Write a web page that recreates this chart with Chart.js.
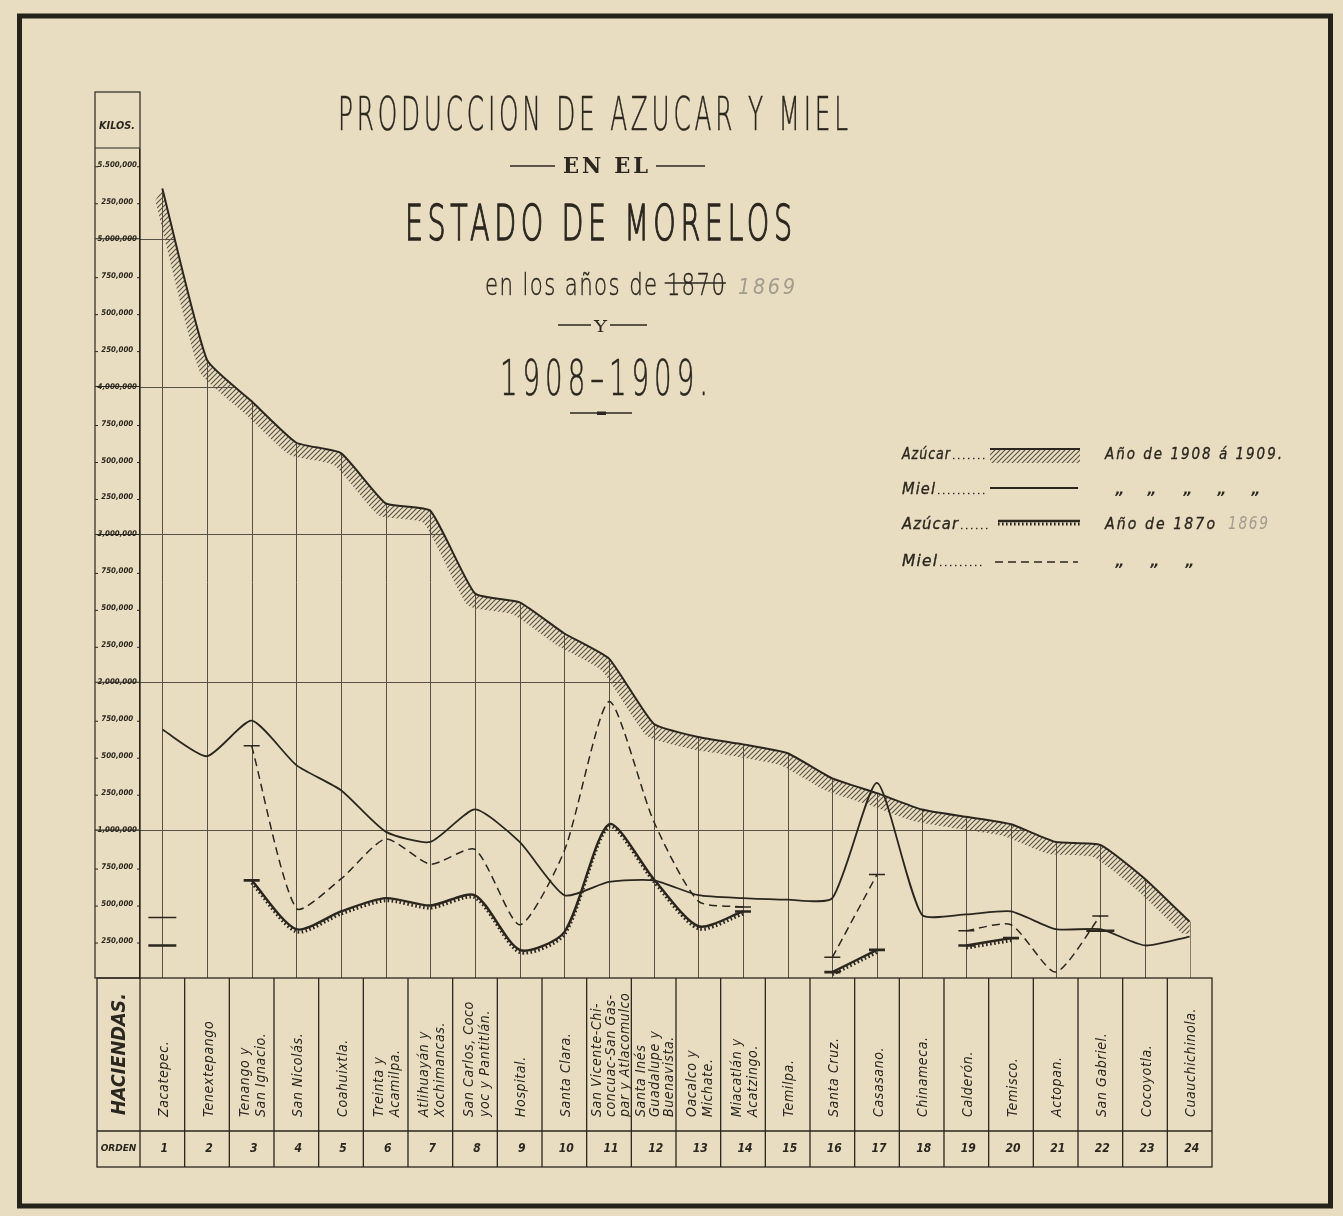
<!DOCTYPE html>
<html lang="es">
<head>
<meta charset="utf-8">
<title>Producción de azúcar y miel en el Estado de Morelos</title>
<script src="https://cdn.jsdelivr.net/npm/chart.js@4.4.1/dist/chart.umd.min.js"></script>
<style>
  html, body { margin: 0; padding: 0; background: #e8ddc1; }
  #wrap { position: relative; width: 1343px; height: 1216px; }
</style>
</head>
<body>
<div id="wrap"><canvas id="chart"></canvas></div>
<script>
// Haciendas por orden, en renglones como en la lámina
const haciendas = [
    ['Zacatepec.'], ['Tenextepango'], ['Tenango y', 'San Ignacio.'], ['San Nicolás.'],
    ['Coahuixtla.'], ['Treinta y', 'Acamilpa.'], ['Atlihuayán y', 'Xochimancas.'],
    ['San Carlos, Coco', 'yoc y Pantitlán.'], ['Hospital.'], ['Santa Clara.'],
    ['San Vicente-Chi-', 'concuac-San Gas-', 'par y Atlacomulco'],
    ['Santa Inés', 'Guadalupe y', 'Buenavista.'], ['Oacalco y', 'Michate.'],
    ['Miacatlán y', 'Acatzingo.'], ['Temilpa.'], ['Santa Cruz.'], ['Casasano.'],
    ['Chinameca.'], ['Calderón.'], ['Temisco.'], ['Actopan.'], ['San Gabriel.'],
    ['Cocoyotla.'], ['Cuauchichinola.']
];
const orden = ['1', '2', '3', '4', '5', '6', '7', '8', '9', '10', '11', '12',
               '13', '14', '15', '16', '17', '18', '19', '20', '21', '22', '23', '24'];

// kilos
const azucar1908 = [5340000, 4180000, 3900000, 3620000, 3550000, 3210000, 3160000, 2600000,
                    2540000, 2330000, 2160000, 1720000, 1630000, 1580000, 1520000, 1350000,
                    1250000, 1140000, 1090000, 1040000, 920000, 900000, 670000, 380000];
const miel1908 = [1680000, 1500000, 1740000, 1440000, 1270000, 990000, 920000, 1140000,
                  920000, 560000, 650000, 660000, 560000, 540000, 530000, 540000,
                  1320000, 430000, 430000, 450000, 330000, 330000, 220000, 280000];
const azucar1870 = [220000, null, 660000, 330000, 450000, 540000, 490000, 560000,
                    190000, 310000, 1040000, 670000, 350000, 450000, null, 40000,
                    190000, null, 220000, 270000, null, 320000, null, null];
const miel1870 = [410000, null, 1570000, 470000, 670000, 940000, 770000, 870000,
                  360000, 860000, 1870000, 1060000, 520000, 480000, null, 140000,
                  700000, null, 320000, 360000, 40000, 420000, null, null];

const yTickValues = [5500000, 5250000, 5000000, 4750000, 4500000, 4250000, 4000000,
                     3750000, 3500000, 3250000, 3000000, 2750000, 2500000, 2250000,
                     2000000, 1750000, 1500000, 1250000, 1000000, 750000, 500000, 250000];
const yTickLabels = ['5.500,000', '250,000', '5,000,000', '750,000', '500,000', '250,000', '4,000,000',
                     '750,000', '500,000', '250,000', '3,000,000', '750,000', '500,000', '250,000',
                     '2,000,000', '750,000', '500,000', '250,000', '1,000,000', '750,000', '500,000', '250,000'];

const PAPER = '#e8ddc1';
const INK = '#2b271f';
const GRID = '#575044';
const PENCIL = '#a29b8e';

// rayado del azúcar 1908
const hatch = (() => {
    const c = document.createElement('canvas');
    c.width = 5; c.height = 5;
    const g = c.getContext('2d');
    g.strokeStyle = '#5a5245';
    g.lineWidth = 1.1;
    g.beginPath();
    g.moveTo(0, 5); g.lineTo(5, 0);
    g.moveTo(-1, 1); g.lineTo(1, -1);
    g.moveTo(4, 6); g.lineTo(6, 4);
    g.stroke();
    return g.createPattern(c, 'repeat');
})();

// trazo corto horizontal en los extremos de las curvas de 1870
function stubRadius(ctx) {
    const d = ctx.dataset.data;
    const i = ctx.dataIndex;
    if (d[i] == null) return 0;
    const prev = d[i - 1] != null;
    const next = d[i + 1] != null;
    if (!prev && !next) return 14;
    if (!prev || !next) return 8;
    return 0;
}

function fitText(ctx, text, x0, x1, baseline, font, color, stroke, spacing) {
    ctx.save();
    ctx.font = font;
    if (spacing) ctx.letterSpacing = spacing + 'px';
    ctx.fillStyle = color || INK;
    ctx.textAlign = 'left';
    ctx.textBaseline = 'alphabetic';
    const w = ctx.measureText(text).width - (spacing || 0);
    ctx.translate(x0, baseline);
    ctx.scale((x1 - x0) / w, 1);
    ctx.fillText(text, 0, 0);
    if (stroke) {
        ctx.strokeStyle = color || INK;
        ctx.lineWidth = stroke;
        ctx.strokeText(text, 0, 0);
    }
    ctx.restore();
    return (x1 - x0) / w;
}

function rotText(ctx, text, x, yStart, font, len, spacing) {
    ctx.save();
    ctx.font = font;
    if (spacing) ctx.letterSpacing = spacing;
    ctx.fillStyle = INK;
    ctx.translate(x, yStart);
    ctx.rotate(-Math.PI / 2);
    ctx.textAlign = 'left';
    ctx.textBaseline = 'middle';
    if (len) ctx.scale(len / ctx.measureText(text).width, 1);
    ctx.fillText(text, 0, 0);
    ctx.restore();
}

function hline(ctx, x0, x1, y, w) {
    ctx.save();
    ctx.strokeStyle = INK;
    ctx.lineWidth = w || 1.2;
    ctx.beginPath();
    ctx.moveTo(x0, y); ctx.lineTo(x1, y);
    ctx.stroke();
    ctx.restore();
}

// sigue la curva de un dataset (con sus puntos de control), desplazada dx, dy
function traceForward(ctx, pts, dx, dy) {
    for (let i = 1; i < pts.length; i++) {
        const p = pts[i - 1], q = pts[i];
        ctx.bezierCurveTo(p.cp2x + dx, p.cp2y + dy, q.cp1x + dx, q.cp1y + dy, q.x + dx, q.y + dy);
    }
}
function traceBackward(ctx, pts, dx, dy) {
    for (let i = pts.length - 1; i > 0; i--) {
        const q = pts[i], p = pts[i - 1];
        ctx.bezierCurveTo(q.cp1x + dx, q.cp1y + dy, p.cp2x + dx, p.cp2y + dy, p.x + dx, p.y + dy);
    }
}
function sugarPoints(chart) {
    const idx = chart.data.datasets.findIndex(d => d.hatch);
    const meta = chart.getDatasetMeta(idx);
    meta.dataset.updateControlPoints(chart.chartArea, 'x');
    return meta.data;
}

// desplaza un dataset unos pixeles (dientes del azúcar 1870)
const shiftPlugin = {
    id: 'shift',
    beforeDatasetDraw(chart, args) {
        const ds = chart.data.datasets[args.index];
        if (ds.shiftY) {
            chart.ctx.save();
            chart.ctx.translate(0, ds.shiftY);
        }
    },
    afterDatasetDraw(chart, args) {
        if (chart.data.datasets[args.index].shiftY) chart.ctx.restore();
    }
};

// cuadrícula sólo bajo la curva del azúcar 1908, y banda rayada
const underCurve = {
    id: 'underCurve',
    beforeDatasetsDraw(chart) {
        const ctx = chart.ctx;
        const a = chart.chartArea;
        const xs = chart.scales.x;
        const ys = chart.scales.y;
        const pts = sugarPoints(chart);
        const last = pts[pts.length - 1];

        ctx.save();
        ctx.beginPath();
        ctx.moveTo(a.left, a.bottom);
        ctx.lineTo(a.left, pts[0].y);
        ctx.lineTo(pts[0].x, pts[0].y);
        traceForward(ctx, pts, 0, 0);
        ctx.lineTo(last.x + 1, last.y);
        ctx.lineTo(last.x + 1, a.bottom);
        ctx.closePath();
        ctx.clip();
        ctx.strokeStyle = GRID;
        ctx.lineWidth = 1;
        ctx.beginPath();
        orden.forEach((o, i) => {
            const x = Math.round(xs.getPixelForValue(i)) + 0.5;
            ctx.moveTo(x, a.top); ctx.lineTo(x, a.bottom);
        });
        yTickValues.filter(v => v % 1000000 === 0).forEach(v => {
            const y = Math.round(ys.getPixelForValue(v)) + 0.5;
            ctx.moveTo(a.left, y); ctx.lineTo(a.right, y);
        });
        ctx.stroke();
        ctx.restore();

        const dx = -7, dy = 12;
        ctx.save();
        ctx.beginPath();
        ctx.rect(a.left, a.top, a.right - a.left, a.bottom - a.top);
        ctx.clip();
        ctx.beginPath();
        ctx.moveTo(pts[0].x, pts[0].y);
        traceForward(ctx, pts, 0, 0);
        ctx.lineTo(last.x, last.y + dy);
        ctx.lineTo(last.x + dx, last.y + dy);
        traceBackward(ctx, pts, dx, dy);
        ctx.closePath();
        ctx.fillStyle = hatch;
        ctx.fill();
        ctx.restore();
    }
};

// marco, columna de kilos, tabla, títulos y leyenda
const lamina = {
    id: 'lamina',
    afterDraw(chart) {
        const ctx = chart.ctx;
        const a = chart.chartArea;
        const xs = chart.scales.x;
        const ys = chart.scales.y;

        // marco
        ctx.save();
        ctx.strokeStyle = '#25221c';
        ctx.lineWidth = 5;
        ctx.strokeRect(19.5, 16, 1311, 1190);
        ctx.restore();

        // columna de kilos
        ctx.save();
        ctx.strokeStyle = INK;
        ctx.lineWidth = 1.2;
        ctx.strokeRect(95, 92, a.left - 95, a.bottom - 92);
        ctx.restore();
        hline(ctx, 95, a.left, 148);
        fitText(ctx, 'KILOS.', 99, 135, 129, 'italic bold 11px "DejaVu Sans"');
        yTickValues.forEach(v => {
            const y = ys.getPixelForValue(v);
            if (v % 1000000 === 0) {
                hline(ctx, 95, a.left, y, 1.1);
            } else {
                hline(ctx, 95, 98, y + 2, 1);
                hline(ctx, a.left - 3, a.left, y + 2, 1);
            }
        });

        // tabla de haciendas
        const step = xs.getPixelForValue(1) - xs.getPixelForValue(0);
        const top = a.bottom, mid = 1131, bot = 1167, left = 97;
        ctx.save();
        ctx.strokeStyle = INK;
        ctx.lineWidth = 1.3;
        ctx.strokeRect(left, top, a.right - left, bot - top);
        ctx.beginPath();
        ctx.moveTo(left, mid); ctx.lineTo(a.right, mid);
        for (let k = 0; k < orden.length; k++) {
            const bx = xs.getPixelForValue(k) - step / 2;
            ctx.moveTo(bx, top); ctx.lineTo(bx, bot);
        }
        ctx.stroke();
        ctx.restore();

        rotText(ctx, 'HACIENDAS.', (left + a.left) / 2 + 1, 1115, 'italic bold 20px "DejaVu Sans Condensed", "DejaVu Sans"', 122);
        ctx.save();
        ctx.fillStyle = INK;
        ctx.font = 'italic bold 9px "DejaVu Sans"';
        ctx.textAlign = 'center';
        ctx.textBaseline = 'middle';
        ctx.fillText('ORDEN', (left + a.left) / 2, 1149);
        ctx.font = 'italic bold 12px "DejaVu Sans Condensed", "DejaVu Sans"';
        orden.forEach((o, i) => ctx.fillText(o, xs.getPixelForValue(i) + 2, 1149));
        ctx.restore();

        haciendas.forEach((lines, i) => {
            const cx = xs.getPixelForValue(i) + 2;
            const gap = lines.length === 3 ? 14 : 16;
            lines.forEach((t, j) => {
                rotText(ctx, t, cx + (j - (lines.length - 1) / 2) * gap, 1117,
                        'italic 14px "DejaVu Sans Condensed", "DejaVu Sans"', 0, '0.6px');
            });
        });

        // títulos
        fitText(ctx, 'PRODUCCION DE AZUCAR Y MIEL', 338, 848, 130, '200 46px "DejaVu Sans"', INK, 0.5, 7);
        fitText(ctx, 'EN EL', 563, 648, 173, 'bold 22px "DejaVu Serif"', INK, 0, 3);
        hline(ctx, 510, 555, 166, 1.3);
        hline(ctx, 656, 705, 166, 1.3);
        fitText(ctx, 'ESTADO DE MORELOS', 405, 792, 240, '200 50px "DejaVu Sans"', INK, 1.4, 8);
        const sub = 'en los años de 1870';
        const sc = fitText(ctx, sub, 485, 725, 295, '200 31px "DejaVu Sans"', INK, 0.4, 2);
        ctx.save();
        ctx.font = '200 31px "DejaVu Sans"';
        ctx.letterSpacing = '2px';
        const x1870 = 485 + ctx.measureText('en los años de ').width * sc;
        ctx.restore();
        hline(ctx, x1870 - 2, 726, 283, 1.4);
        fitText(ctx, '1869', 738, 795, 294, 'italic 200 22px "DejaVu Sans"', PENCIL, 0, 3);
        fitText(ctx, 'Y', 594, 607, 332, 'normal 17px "DejaVu Serif"');
        hline(ctx, 558, 591, 325, 1.3);
        hline(ctx, 610, 647, 325, 1.3);
        fitText(ctx, '1908–1909.', 500, 708, 395, '200 50px "DejaVu Sans"', INK, 0.6, 9);
        hline(ctx, 570, 632, 413, 1.3);
        ctx.save();
        ctx.fillStyle = INK;
        ctx.fillRect(597, 411.5, 9, 3.5);
        ctx.restore();

        // leyenda
        const lf = 'italic 15px "DejaVu Sans Condensed", "DejaVu Sans"';
        const rows = [
            { name: 'Azúcar', nameEnd: 950, lead: 985, y: 459, text: 'Año de 1908 á 1909.', tEnd: 1282 },
            { name: 'Miel', nameEnd: 935, lead: 985, y: 494, ditto: [1120, 1152, 1188, 1222, 1256] },
            { name: 'Azúcar', nameEnd: 958, lead: 990, y: 529, text: 'Año de 187o', tEnd: 1215, pencil: true },
            { name: 'Miel', nameEnd: 937, lead: 985, y: 566, ditto: [1120, 1155, 1190] }
        ];
        rows.forEach(r => {
            fitText(ctx, r.name, 902, r.nameEnd, r.y, lf, INK, 0.3, 1);
            ctx.save();
            ctx.fillStyle = INK;
            for (let x = r.nameEnd + 3; x < r.lead; x += 5) ctx.fillRect(x, r.y - 1.2, 1.4, 1.4);
            ctx.restore();
            if (r.text) fitText(ctx, r.text, 1105, r.tEnd, r.y, lf, INK, 0.3, 2);
            if (r.pencil) fitText(ctx, '1869', 1228, 1268, r.y, 'italic 200 17px "DejaVu Sans"', PENCIL, 0, 2);
            if (r.ditto) {
                ctx.save();
                ctx.font = 'italic bold 14px "DejaVu Sans"';
                ctx.fillStyle = INK;
                ctx.textAlign = 'center';
                r.ditto.forEach(x => ctx.fillText('„', x, r.y));
                ctx.restore();
            }
        });
        ctx.save();
        ctx.fillStyle = hatch;
        ctx.fillRect(990, 450, 90, 13);
        ctx.restore();
        hline(ctx, 990, 1080, 449, 2.2);
        hline(ctx, 990, 1078, 488, 1.8);
        hline(ctx, 998, 1080, 521, 2.6);
        ctx.save();
        ctx.strokeStyle = INK;
        ctx.lineWidth = 3;
        ctx.setLineDash([1.6, 2.4]);
        ctx.beginPath();
        ctx.moveTo(998, 524); ctx.lineTo(1080, 524);
        ctx.stroke();
        ctx.lineWidth = 1.6;
        ctx.setLineDash([8, 5]);
        ctx.beginPath();
        ctx.moveTo(995, 562); ctx.lineTo(1078, 562);
        ctx.stroke();
        ctx.restore();
    }
};

new Chart(document.getElementById('chart'), {
    type: 'line',
    data: {
        labels: orden,
        datasets: [
            {
                label: 'Miel 1870',
                data: miel1870,
                borderColor: INK,
                borderWidth: 1.5,
                borderDash: [8, 5],
                tension: 0.22,
                pointStyle: 'line',
                pointRadius: stubRadius,
                pointBorderColor: INK,
                pointBorderWidth: 1.5
            },
            {
                label: 'Azúcar 1870 (dientes)',
                data: azucar1870,
                shiftY: 2.5,
                borderColor: INK,
                borderWidth: 3.2,
                borderDash: [1.6, 2.4],
                tension: 0.25,
                pointRadius: 0
            },
            {
                label: 'Azúcar 1870',
                data: azucar1870,
                borderColor: INK,
                borderWidth: 2.4,
                tension: 0.25,
                pointStyle: 'line',
                pointRadius: stubRadius,
                pointBorderColor: INK,
                pointBorderWidth: 2.6
            },
            {
                label: 'Miel 1908-1909',
                data: miel1908,
                borderColor: INK,
                borderWidth: 1.8,
                tension: 0.2,
                pointRadius: 0
            },
            {
                label: 'Azúcar 1908-1909',
                data: azucar1908,
                hatch: true,
                borderColor: INK,
                borderWidth: 2,
                tension: 0.15,
                pointRadius: 0
            }
        ]
    },
    options: {
        responsive: true,
        maintainAspectRatio: false,
        animation: false,
        events: [],
        layout: { padding: { left: 95, right: 131, top: 150, bottom: 238 } },
        scales: {
            x: {
                offset: true,
                afterFit(axis) { axis.height = 0; },
                ticks: { display: false },
                border: { display: false },
                grid: { display: false }
            },
            y: {
                min: 0,
                max: 5600000,
                afterFit(axis) { axis.width = 45; },
                afterBuildTicks(axis) { axis.ticks = yTickValues.map(v => ({ value: v })); },
                border: { display: true, color: INK, width: 1.2 },
                grid: { display: false, drawTicks: false },
                ticks: {
                    autoSkip: false,
                    padding: 3,
                    crossAlign: 'center',
                    color: INK,
                    font: { family: '"DejaVu Sans Condensed", "DejaVu Sans"', size: 7.8, style: 'italic', weight: 'bold' },
                    callback: (value, index) => yTickLabels[index]
                }
            }
        },
        plugins: {
            legend: { display: false },
            title: { display: false },
            tooltip: { enabled: false }
        }
    },
    plugins: [underCurve, shiftPlugin, lamina]
});
</script>
</body>
</html>
